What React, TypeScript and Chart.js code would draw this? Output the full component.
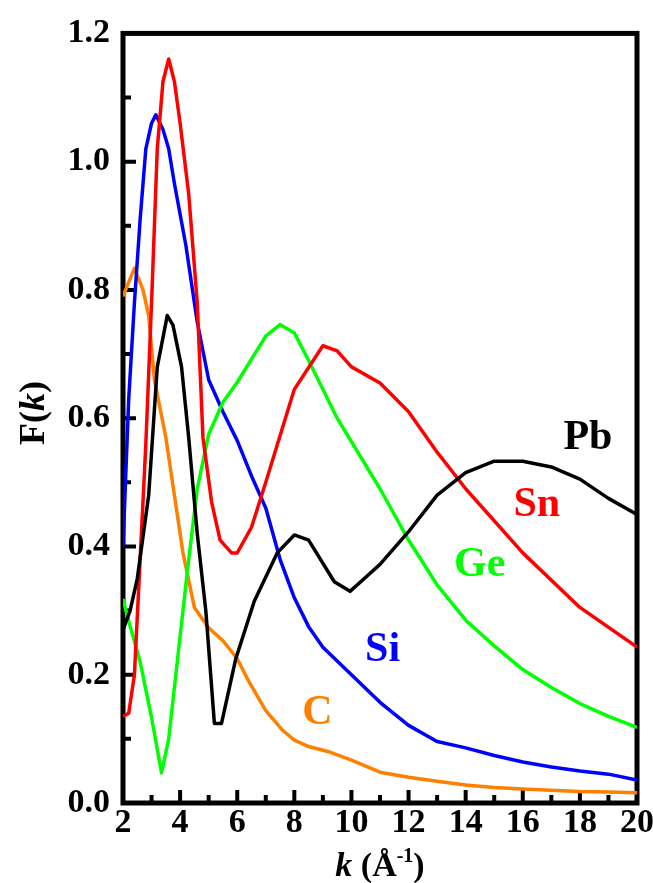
import React, { useEffect, useRef } from 'react';
import { Chart, registerables } from 'chart.js';
Chart.register(...registerables);

// ---- data (k in 1/Å, F(k)) ----
const kPb = [2, 2.25, 2.5, 2.9, 3.2, 3.55, 3.75, 4.05, 4.3, 4.6, 4.9, 5.2, 5.45, 5.95, 6.6, 7.4, 8.0, 8.5, 9.4, 9.95, 10.5, 11, 12, 13, 14, 15, 16, 17, 18, 19, 20];
const fPb = [0.27, 0.3, 0.35, 0.48, 0.68, 0.76, 0.745, 0.68, 0.57, 0.42, 0.3, 0.124, 0.124, 0.225, 0.315, 0.39, 0.418, 0.41, 0.345, 0.33, 0.352, 0.372, 0.423, 0.48, 0.515, 0.533, 0.533, 0.524, 0.505, 0.475, 0.45];

const kSn = [2, 2.2, 2.4, 2.6, 2.8, 3.0, 3.2, 3.4, 3.6, 3.8, 4.0, 4.3, 4.6, 4.8, 5.1, 5.4, 5.8, 6.0, 6.5, 7.0, 8.0, 9.0, 9.5, 10, 11, 12, 13, 14, 16, 18, 20];
const fSn = [0.135, 0.14, 0.2, 0.38, 0.56, 0.78, 1.02, 1.125, 1.16, 1.125, 1.06, 0.95, 0.78, 0.57, 0.47, 0.41, 0.39, 0.39, 0.43, 0.5, 0.645, 0.713, 0.705, 0.68, 0.655, 0.61, 0.547, 0.49, 0.39, 0.305, 0.243];

const kGe = [2, 2.2, 2.6, 3.0, 3.35, 3.6, 3.9, 4.25, 4.6, 5.0, 5.5, 6.0, 7.0, 7.5, 8.0, 8.5, 9.5, 11, 12, 13, 14, 15, 16, 17, 18, 19, 20];
const fGe = [0.318, 0.284, 0.22, 0.133, 0.047, 0.1, 0.22, 0.36, 0.49, 0.575, 0.625, 0.656, 0.728, 0.746, 0.733, 0.69, 0.6, 0.49, 0.41, 0.34, 0.285, 0.245, 0.208, 0.18, 0.155, 0.135, 0.118];

const kSi = [2, 2.2, 2.4, 2.6, 2.8, 3.0, 3.15, 3.4, 3.6, 3.8, 4.2, 4.6, 5.0, 5.5, 6.0, 6.5, 7.0, 7.5, 8.0, 8.5, 9.0, 10, 11, 12, 13, 14, 15, 16, 17, 18, 19, 20];
const fSi = [0.4, 0.63, 0.78, 0.91, 1.02, 1.06, 1.073, 1.05, 1.02, 0.966, 0.87, 0.75, 0.66, 0.61, 0.565, 0.51, 0.46, 0.38, 0.32, 0.275, 0.243, 0.2, 0.157, 0.121, 0.096, 0.086, 0.074, 0.064, 0.056, 0.05, 0.045, 0.036];

const kC = [2, 2.4, 2.7, 2.9, 3.1, 3.5, 3.8, 4.1, 4.5, 5.0, 5.5, 6.0, 6.4, 7.0, 7.6, 8.0, 8.5, 9.2, 10, 11, 12, 13, 14, 15, 16, 17, 18, 19, 20];
const fC = [0.79, 0.834, 0.8, 0.76, 0.66, 0.57, 0.48, 0.39, 0.305, 0.273, 0.253, 0.225, 0.19, 0.144, 0.113, 0.098, 0.088, 0.08, 0.067, 0.048, 0.04, 0.034, 0.028, 0.024, 0.022, 0.02, 0.018, 0.017, 0.016];

const seriesNames = ['Pb', 'Sn', 'Ge', 'Si', 'C'];
const seriesColors = ['#000000', '#ff0000', '#00ff00', '#0000ff', '#ff8000'];

// in-plot series labels, anchored in data coordinates (k, F)
const labelK = [18.28, 16.49, 14.49, 11.09, 8.81];
const labelF = [0.569, 0.464, 0.371, 0.239, 0.14];

const X_MIN = 2, X_MAX = 20, X_STEP = 2;
const Y_MIN = 0, Y_MAX = 1.2, Y_STEP = 0.2;

const SERIF = '"Liberation Serif", "Times New Roman", serif';

function pts(k: number[], f: number[]) {
  return k.map((x, i) => ({ x, y: f[i] }));
}

function drawRuns(ctx: CanvasRenderingContext2D, runs: { t: string; font: string; dy?: number }[], cx: number, cy: number) {
  let total = 0;
  for (const r of runs) { ctx.font = r.font; total += ctx.measureText(r.t).width; }
  let x = cx - total / 2;
  ctx.textAlign = 'left';
  ctx.textBaseline = 'alphabetic';
  for (const r of runs) {
    ctx.font = r.font;
    ctx.fillText(r.t, x, cy + (r.dy || 0));
    x += ctx.measureText(r.t).width;
  }
}

const decor = {
  id: 'decor',
  beforeDatasetsDraw(chart: any) {
    const { ctx, chartArea: a, scales } = chart;
    const xs = scales.x, ys = scales.y;
    ctx.save();
    ctx.strokeStyle = '#000';
    ctx.lineWidth = 5;
    ctx.strokeRect(a.left, a.top, a.right - a.left, a.bottom - a.top);
    ctx.lineWidth = 4;
    ctx.beginPath();
    for (let i = 1; i < Math.round((Y_MAX - Y_MIN) / 0.1); i++) {
      const v = Y_MIN + i * 0.1;
      const py = ys.getPixelForValue(v);
      const len = i % 2 === 0 ? 13 : 8;
      ctx.moveTo(a.left, py);
      ctx.lineTo(a.left + len, py);
    }
    for (let k = X_MIN + 1; k < X_MAX; k++) {
      const px = xs.getPixelForValue(k);
      const len = (k - X_MIN) % 2 === 0 ? 13 : 8;
      ctx.moveTo(px, a.bottom);
      ctx.lineTo(px, a.bottom - len);
    }
    ctx.stroke();
    ctx.restore();
  },
  afterDatasetsDraw(chart: any) {
    const { ctx, chartArea: a, scales } = chart;
    const xs = scales.x, ys = scales.y;
    ctx.save();
    // series labels
    ctx.font = `bold 42px ${SERIF}`;
    ctx.textAlign = 'center';
    ctx.textBaseline = 'middle';
    seriesNames.forEach((n, i) => {
      ctx.fillStyle = seriesColors[i];
      ctx.fillText(n, xs.getPixelForValue(labelK[i]), ys.getPixelForValue(labelF[i]));
    });
    ctx.fillStyle = '#000';
    // x title
    drawRuns(ctx, [
      { t: 'k', font: `italic bold 34px ${SERIF}` },
      { t: ' (Å', font: `bold 34px ${SERIF}` },
      { t: '-1', font: `bold 20px ${SERIF}`, dy: -14 },
      { t: ')', font: `bold 34px ${SERIF}` },
    ], (a.left + a.right) / 2, 876);
    // y title
    ctx.translate(44, 413);
    ctx.rotate(-Math.PI / 2);
    drawRuns(ctx, [
      { t: 'F(', font: `bold 36px ${SERIF}` },
      { t: 'k', font: `italic bold 36px ${SERIF}` },
      { t: ')', font: `bold 36px ${SERIF}` },
    ], 0, 0);
    ctx.restore();
  },
};

export default function App() {
  const ref = useRef<HTMLCanvasElement>(null);
  useEffect(() => {
    const ks = [kPb, kSn, kGe, kSi, kC];
    const fs = [fPb, fSn, fGe, fSi, fC];
    const chart = new Chart(ref.current!, {
      type: 'line',
      data: {
        datasets: seriesNames.map((n, i) => ({
          label: n,
          data: pts(ks[i], fs[i]),
          borderColor: seriesColors[i],
          backgroundColor: seriesColors[i],
          borderWidth: 3.5,
          borderJoinStyle: 'round',
          pointRadius: 0,
          tension: 0,
          fill: false,
        })),
      },
      options: {
        animation: false,
        responsive: true,
        maintainAspectRatio: false,
        layout: { padding: { top: 29, right: 16, left: 0, bottom: 0 } },
        plugins: { legend: { display: false }, tooltip: { enabled: false } },
        scales: {
          x: {
            type: 'linear',
            min: X_MIN,
            max: X_MAX,
            afterFit: (s: any) => { s.height = 80; s.paddingLeft = 0; s.paddingRight = 0; },
            grid: { display: false, drawTicks: false },
            border: { display: false },
            ticks: {
              stepSize: X_STEP,
              autoSkip: false,
              maxRotation: 0,
              padding: 0,
              color: '#000',
              font: { family: SERIF, size: 34, weight: 'bold' },
            },
          },
          y: {
            type: 'linear',
            min: Y_MIN,
            max: Y_MAX,
            afterFit: (s: any) => { s.width = 123; },
            grid: { display: false, drawTicks: false },
            border: { display: false },
            ticks: {
              stepSize: Y_STEP,
              padding: 13,
              color: '#000',
              font: { family: SERIF, size: 34, weight: 'bold' },
              callback: (v: any) => Number(v).toFixed(1),
            },
          },
        },
      },
      plugins: [decor],
    } as any);
    return () => chart.destroy();
  }, []);
  return (
    <div style={{ position: 'absolute', left: 0, top: 0, width: 653, height: 883, background: '#fff' }}>
      <canvas ref={ref} />
    </div>
  );
}
